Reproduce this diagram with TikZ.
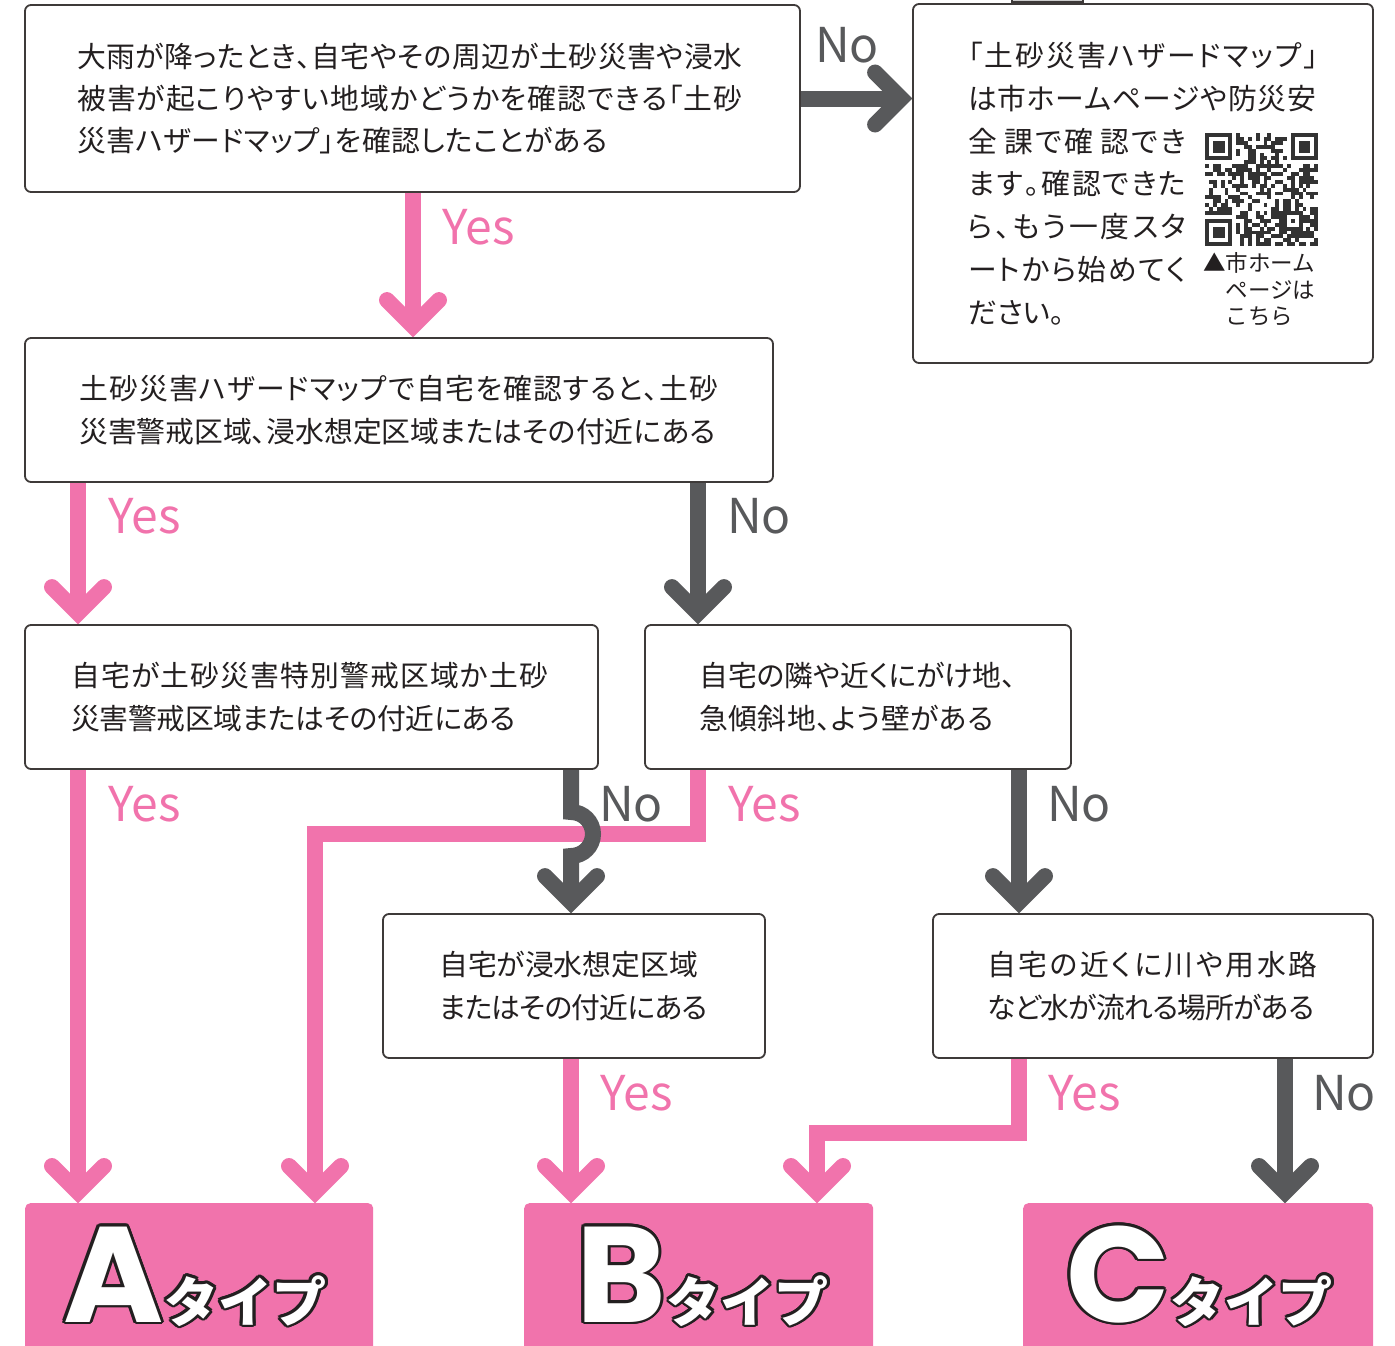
\documentclass[tikz,border=0pt]{standalone}
\usepackage{fontspec}
\setmainfont{Noto Sans CJK JP}[RawFeature=+palt]
\newfontfamily\plainjp{Noto Sans CJK JP}
\newfontfamily\biglatin{Poppins}
\usetikzlibrary{calc,backgrounds}
\definecolor{pinkc}{HTML}{F173AC}
\definecolor{grayc}{HTML}{58595B}
\definecolor{linec}{HTML}{3E3A39}
\definecolor{outl}{HTML}{231F20}
\definecolor{txtc}{HTML}{231F20}
\definecolor{qrc}{HTML}{333333}
\newcommand\myspread[2]{\makebox[#1][s]{\myspA#2\relax}}
\def\myspA#1{#1\myspB}
\def\myspB#1{\ifx#1\relax\else\hskip0pt plus1fil minus1fil #1\expandafter\myspB\fi}
\tikzset{
  box/.style={draw=linec, line width=1.8pt, rounded corners=6pt, fill=white, inner sep=0pt},
  txt/.style={inner sep=0pt, align=left, font=\fontsize{28.8}{42.3}\selectfont, text=txtc},
  pinkline/.style={draw=pinkc, line width=16pt, line join=miter},
  grayline/.style={draw=grayc, line width=16pt, line join=miter},
  chev/.style={line width=16pt, line cap=round, line join=miter},
  yeslab/.style={text=pinkc, font=\plainjp\fontsize{48}{48}\selectfont, anchor=base west, inner sep=0pt},
  nolab/.style={text=grayc, font=\plainjp\fontsize{48}{48}\selectfont, anchor=base west, inner sep=0pt},
  typebox/.style={fill=pinkc, rounded corners=5pt, inner sep=0pt, anchor=north west, minimum height=200pt},
  typetxt/.style={anchor=base west, inner sep=0pt},
}
\newcommand\chevdown[2]{\draw[chev, draw=#2] ($(#1)+(-26,-37)$) -- ($(#1)+(0,-11)$) -- ($(#1)+(26,-37)$);}
\newcommand\chevright[2]{\draw[chev, draw=#2] ($(#1)+(-37,-26)$) -- ($(#1)+(-11,0)$) -- ($(#1)+(-37,26)$);}
\newcommand\mytypetext[1]{{\biglatin\bfseries\fontsize{136}{136}\selectfont #1}\kern1pt{\plainjp\bfseries\fontsize{54}{54}\selectfont タイプ}}
\newcommand\mytypelabel[3]{%
  \foreach \ang in {0,22.5,...,337.5}{%
    \node[typetxt, text=outl] at ($(#1,1322)+(\ang:2.8pt)$) {\mytypetext{#2}};
  }%
  \node[typetxt, text=white] (#3) at (#1,1322) {\mytypetext{#2}};
}
\begin{document}
\begin{tikzpicture}[x=1pt,y=-1pt]
\useasboundingbox (0,0) rectangle (1395,1346);

% cut-off tab at the top edge
\draw[draw=linec, line width=2pt, fill=black!20] (1012,-10) rectangle (1083,2);

% boxes
\node[box, minimum width=775pt, minimum height=187pt] (b1) at (412.5,98.5) {};
\node[box, minimum width=460pt, minimum height=359pt] (tr) at (1143,183.5) {};
\node[box, minimum width=748pt, minimum height=144pt] (b2) at (399,410) {};
\node[box, minimum width=573pt, minimum height=144pt] (b3) at (311.5,697) {};
\node[box, minimum width=426pt, minimum height=144pt] (b4) at (858,697) {};
\node[box, minimum width=382pt, minimum height=144pt] (b5) at (574,986) {};
\node[box, minimum width=440pt, minimum height=144pt] (b6) at (1153,986) {};
\node[typebox, minimum width=348pt] (tA) at (25,1203) {};
\node[typebox, minimum width=349pt] (tB) at (524,1203) {};
\node[typebox, minimum width=350pt] (tC) at (1023,1203) {};

% texts
\node[txt, anchor=west] (t1) at ([xshift=53pt]b1.west)
  {\myspread{665pt}{大雨が降ったとき、自宅やその周辺が土砂災害や浸水}\\
   \myspread{665pt}{被害が起こりやすい地域かどうかを確認できる「土砂}\\
   \myspread{530pt}{災害ハザードマップ」を確認したことがある}};
\node[txt, anchor=west] (t2) at ([xshift=55pt]b2.west)
  {\myspread{639pt}{土砂災害ハザードマップで自宅を確認すると、土砂}\\
   \myspread{636pt}{災害警戒区域、浸水想定区域またはその付近にある}};
\node[txt, anchor=west] (t3) at ([xshift=47pt]b3.west)
  {\myspread{477pt}{自宅が土砂災害特別警戒区域か土砂}\\
   \myspread{444pt}{災害警戒区域またはその付近にある}};
\node[txt, anchor=west] (t4) at ([xshift=55pt]b4.west)
  {自宅の隣や近くにがけ地、\\
   \myspread{294pt}{急傾斜地、よう壁がある}};
\node[txt, anchor=west] (t5) at ([xshift=57pt]b5.west)
  {自宅が浸水想定区域\\
   \myspread{268pt}{またはその付近にある}};
\node[txt, anchor=west] (t6) at ([xshift=55pt]b6.west)
  {\myspread{330pt}{自宅の近くに川や用水路}\\
   \myspread{327pt}{など水が流れる場所がある}};
\node[txt, anchor=west, font=\fontsize{28.8}{42.8}\selectfont] (trt) at (968,183.5)
  {\myspread{350pt}{「土砂災害ハザードマップ」}\\
   \myspread{348pt}{は市ホームページや防災安}\\
   \makebox[218pt][s]{全\hfil\hfil\hfil 課\hfil で\hfil 確\hfil\hfil\hfil 認\hfil で\hfil き}\\
   \myspread{218pt}{ます。確認できた}\\
   \myspread{218pt}{ら、もう一度スタ}\\
   \myspread{218pt}{ートから始めてく}\\
   ださい。};
\node[txt, anchor=west, font=\plainjp\fontsize{22.5}{26.5}\selectfont] (qrcap) at (1203,289.5)
  {▲市ホーム\\\hspace*{22.5pt}ページは\\\hspace*{22.5pt}こちら};

% QR code
\begin{scope}[shift={(1205,133)}]
  \pgfmathsetseed{7}
  \foreach \i in {0,...,28}{\foreach \j in {0,...,28}{%
    \pgfmathrandominteger{\rr}{0}{1}%
    \ifnum\rr=1 \fill[qrc] ({\i*3.9},{\j*3.9}) rectangle ++(3.9,3.9);\fi
  }}
  \fill[white] (0,0) rectangle (31.2,31.2);
  \fill[white] ({21*3.9},0) rectangle ({29*3.9},31.2);
  \fill[white] (0,{21*3.9}) rectangle (31.2,{29*3.9});
  \foreach \px/\py in {0/0,22/0,0/22}{
    \fill[qrc] ({\px*3.9},{\py*3.9}) rectangle ++(27.3,27.3);
    \fill[white] ({(\px+1)*3.9},{(\py+1)*3.9}) rectangle ++(19.5,19.5);
    \fill[qrc] ({(\px+2)*3.9},{(\py+2)*3.9}) rectangle ++(11.7,11.7);
  }
  \fill[qrc] ({20*3.9},{20*3.9}) rectangle ++(19.5,19.5);
  \fill[white] ({21*3.9},{21*3.9}) rectangle ++(11.7,11.7);
  \fill[qrc] ({22*3.9},{22*3.9}) rectangle ++(3.9,3.9);
\end{scope}

% connectors
\begin{scope}[on background layer]
  \coordinate (e1) at (b2.north -| 413,0);
  \draw[pinkline] (b1.south -| 413,0) -- ([yshift=11pt]e1);
  \chevdown{e1}{pinkc}
  \coordinate (e2) at (tr.west |- 0,98.5);
  \draw[grayline] (b1.east |- 0,98.5) -- ([xshift=-11pt]e2);
  \chevright{e2}{grayc}
  \coordinate (e3) at (b3.north -| 78,0);
  \draw[pinkline] (b2.south -| 78,0) -- ([yshift=11pt]e3);
  \chevdown{e3}{pinkc}
  \coordinate (e4) at (b4.north -| 698,0);
  \draw[grayline] (b2.south -| 698,0) -- ([yshift=11pt]e4);
  \chevdown{e4}{grayc}
  \coordinate (e5) at (tA.north -| 78,0);
  \draw[pinkline] (b3.south -| 78,0) -- ([yshift=11pt]e5);
  \chevdown{e5}{pinkc}
  \coordinate (e7) at (tA.north -| 315,0);
  \draw[pinkline] (b4.south -| 698,0) -- (698,834) -- (315,834) -- ([yshift=11pt]e7);
  \chevdown{e7}{pinkc}
  \coordinate (e6) at (b5.north -| 571,0);
  \draw[grayline] (b3.south -| 571,0) -- (571,812) arc[start angle=-90, end angle=90, radius=22] -- ([yshift=11pt]e6);
  \chevdown{e6}{grayc}
  \coordinate (e8) at (b6.north -| 1019,0);
  \draw[grayline] (b4.south -| 1019,0) -- ([yshift=11pt]e8);
  \chevdown{e8}{grayc}
  \coordinate (e9) at (tB.north -| 571,0);
  \draw[pinkline] (b5.south -| 571,0) -- ([yshift=11pt]e9);
  \chevdown{e9}{pinkc}
  \coordinate (e10) at (tB.north -| 817,0);
  \draw[pinkline] (b6.south -| 1019,0) -- (1019,1133) -- (817,1133) -- ([yshift=11pt]e10);
  \chevdown{e10}{pinkc}
  \coordinate (e11) at (tC.north -| 1285,0);
  \draw[grayline] (b6.south -| 1285,0) -- ([yshift=11pt]e11);
  \chevdown{e11}{grayc}
\end{scope}

% labels
\node[yeslab] (ly1) at (442,244) {Yes};
\node[nolab] (ln1) at (815,63) {No};
\node[yeslab] (ly2) at (108,533) {Yes};
\node[nolab] (ln2) at (727,533) {No};
\node[yeslab] (ly3) at (108,821) {Yes};
\node[nolab] (ln3) at (599,821) {No};
\node[yeslab] (ly4) at (728,821) {Yes};
\node[nolab] (ln4) at (1047,821) {No};
\node[yeslab] (ly5) at (600,1110) {Yes};
\node[yeslab] (ly6) at (1048,1110) {Yes};
\node[nolab] (ln5) at (1312,1110) {No};

% type labels
\mytypelabel{63}{A}{labA}
\mytypelabel{576}{B}{labB}
\mytypelabel{1066}{C}{labC}
\end{tikzpicture}
\end{document}
